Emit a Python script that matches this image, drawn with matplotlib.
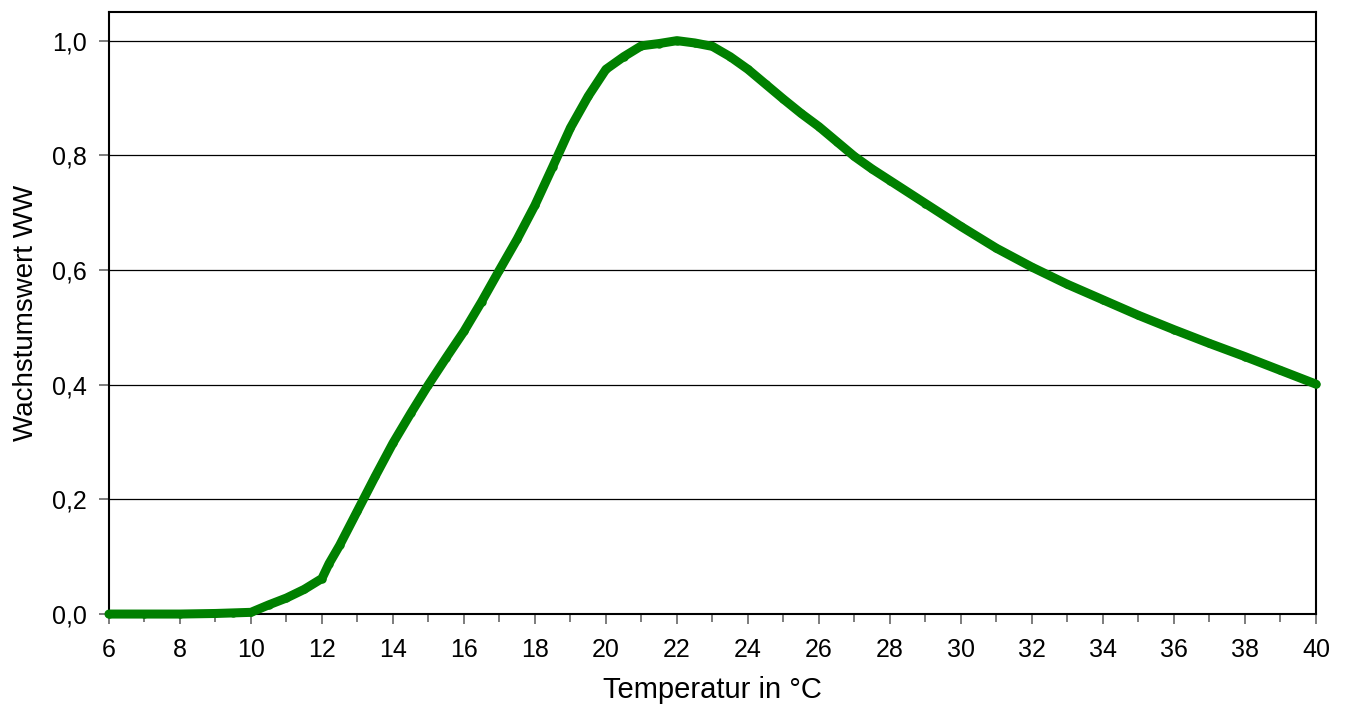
import numpy as np
import matplotlib.pyplot as plt
from matplotlib.ticker import FuncFormatter, MultipleLocator

# Temperatur in °C und Wachstumswert
temp = [6, 7, 8, 9, 9.5, 10, 10.5, 11, 11.5, 12, 12.2, 12.5, 13, 13.5, 14, 14.5,
        15, 15.5, 16, 16.5, 17, 17.5, 18, 18.5, 19, 19.5, 20, 20.5, 21, 21.5,
        22, 22.5, 23, 23.5, 24, 24.5, 25, 25.5, 26, 26.5, 27, 27.5, 28, 29, 30,
        31, 32, 33, 34, 35, 36, 37, 38, 39, 40]
ww = [0.0, 0.0, 0.0, 0.001, 0.002, 0.003, 0.016, 0.028, 0.043, 0.062, 0.088,
      0.12, 0.18, 0.24, 0.298, 0.35, 0.40, 0.447, 0.493, 0.545, 0.600, 0.654,
      0.713, 0.78, 0.848, 0.903, 0.95, 0.972, 0.991, 0.995, 1.0, 0.996, 0.99,
      0.972, 0.95, 0.924, 0.898, 0.873, 0.85, 0.824, 0.798, 0.776, 0.756,
      0.716, 0.676, 0.638, 0.605, 0.575, 0.548, 0.521, 0.496, 0.472, 0.449,
      0.425, 0.401]

plt.rcParams['font.family'] = ['Liberation Sans', 'DejaVu Sans']

fig = plt.figure(figsize=(13.45, 7.05), dpi=100)
ax = fig.add_axes([0.081, 0.129, 0.8974, 0.854])

ax.plot(temp, ww, color='#008000', linewidth=6.5, marker='o', markersize=5,
        solid_capstyle='round', solid_joinstyle='round', clip_on=False, zorder=3)

ax.set_xlim(6, 40)
ax.set_ylim(0, 1.05)
ax.xaxis.set_major_locator(MultipleLocator(2))
ax.xaxis.set_minor_locator(MultipleLocator(1))
ax.set_yticks([0, 0.2, 0.4, 0.6, 0.8, 1.0])
ax.yaxis.set_major_formatter(FuncFormatter(lambda v, p: f'{v:.1f}'.replace('.', ',')))

for y in [0.2, 0.4, 0.6, 0.8, 1.0]:
    ax.axhline(y, color='black', linewidth=0.9, zorder=1)

for s in ax.spines.values():
    s.set_linewidth(1.5)
    s.set_color('black')

ax.tick_params(axis='both', which='both', direction='out', color='#666666',
               labelsize=18, width=1.2)
ax.tick_params(axis='x', which='major', length=7, pad=10)
ax.tick_params(axis='x', which='minor', length=6)
ax.tick_params(axis='y', length=7, pad=9)

ax.set_xlabel('Temperatur in °C', fontsize=21, labelpad=10)
ax.set_ylabel('Wachstumswert WW', fontsize=20, labelpad=9)

fig.savefig('out.png', dpi=100)
